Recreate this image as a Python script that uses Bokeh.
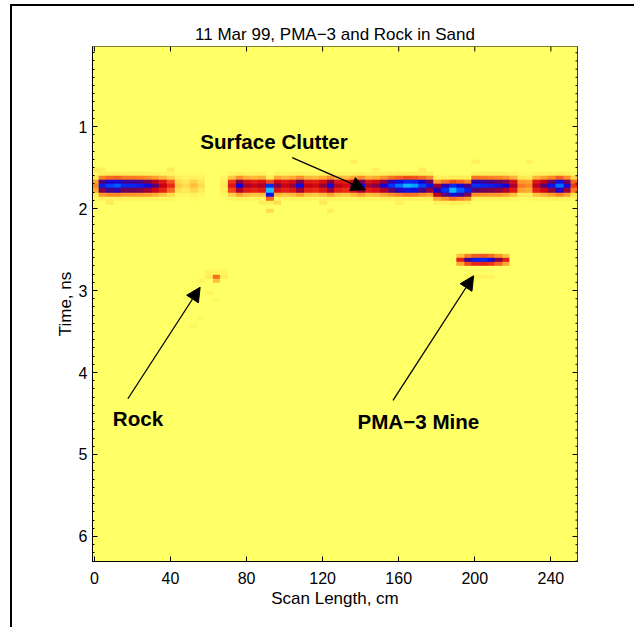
import numpy as np
from bokeh.plotting import figure
from bokeh.models import (Range1d, FixedTicker, LinearColorMapper,
                          Arrow, NormalHead, Label)
from bokeh.embed import file_html
from bokeh.resources import INLINE

# ---------------- data ----------------
title_text = "11 Mar 99, PMA\u22123 and Rock in Sand"
x_label = "Scan Length, cm"
y_label = "Time, ns"
x_ticks = [0, 40, 80, 120, 160, 200, 240]
y_ticks = [1, 2, 3, 4, 5, 6]
x_lim = (-1, 254)
t_lim = (0.024, 6.305)

# image columns: scan position (cm) of each column centre
scan_cm = [0, 4, 8, 12, 16, 20, 24, 28, 32, 36, 40, 44, 48, 52, 56, 60,
           64, 68, 72, 76, 80, 84, 88, 92, 96, 100, 104, 108, 112, 116, 120, 124,
           128, 132, 136, 140, 144, 148, 152, 156, 160, 164, 168, 172, 176, 180, 184, 188,
           192, 196, 200, 204, 208, 212, 216, 220, 224, 228, 232, 236, 240, 244, 248, 252]
# surface-clutter strength (0 = background, 1 = strongest return)
clutter_amp = [0.30, 0.78, 0.84, 0.86, 0.80, 0.80, 0.78, 0.74, 0.66, 0.55, 0.42, 0.18, 0.15, 0.20, 0.15, 0.00,
               0.00, 0.12, 0.48, 0.72, 0.58, 0.54, 0.58, 0.95, 0.62, 0.55, 0.60, 0.74, 0.55, 0.52, 0.60, 0.74,
               0.56, 0.52, 0.62, 0.74, 0.58, 0.62, 0.72, 0.82, 0.88, 0.94, 0.92, 0.84, 0.76, 0.70, 0.82, 0.94,
               0.86, 0.78, 0.82, 0.80, 0.78, 0.76, 0.72, 0.58, 0.32, 0.30, 0.56, 0.66, 0.76, 0.88, 0.74, 0.40]
# time (ns) of the clutter band centre
clutter_t = [1.70] * 11 + [1.70] * 7 + [1.73] * 5 + [1.76] + [1.74] * 12 + [1.71] * 8 + \
            [1.74, 1.76, 1.78, 1.78, 1.78, 1.76] + [1.75] * 5 + [1.75] * 9
# relative strength of band rows above / below centre (rows of 0.05 ns)
band_profile = [0.12, 0.40, 0.85, 1.00, 0.80, 0.35, 0.10]

# PMA-3 mine return
mine_cm = [192, 196, 200, 204, 208, 212, 216]
mine_amp = [0.45, 0.68, 0.78, 0.80, 0.74, 0.62, 0.45]
mine_t = 2.60
mine_profile = [0.45, 1.00, 0.55]

# weak isolated returns (cm, ns, strength): rock, mine shadow, speckle
spot_cm = [64, 64, 60, 68, 56, 60, 64, 68, 60, 64, 56, 52,
           196, 200, 204, 208,
           0, 4, 8, 40, 44, 92, 96, 88, 120, 136, 148, 160, 172, 200, 228, 236, 124]
spot_t = [2.85, 2.90, 2.85, 2.85, 2.90, 2.80, 2.80, 2.80, 3.05, 3.10, 3.35, 3.40,
          2.85, 2.85, 2.85, 2.85,
          1.55, 1.55, 1.95, 1.55, 1.60, 2.00, 1.95, 1.95, 1.95, 1.45, 1.55, 1.95, 1.50, 1.45, 1.45, 1.60, 2.00]
spot_amp = [0.33, 0.20, 0.12, 0.10, 0.06, 0.07, 0.07, 0.05, 0.06, 0.05, 0.04, 0.04,
            0.07, 0.08, 0.08, 0.06,
            0.12, 0.10, 0.12, 0.12, 0.10, 0.15, 0.15, 0.10, 0.12, 0.10, 0.08, 0.08, 0.12, 0.10, 0.08, 0.08, 0.10]

# annotations
labels_txt = ["Surface Clutter", "Rock", "PMA\u22123 Mine"]
labels_x = [55.6, 9.7, 138.3]
labels_t = [1.18, 4.56, 4.60]
arrow_x0 = [104, 17.6, 157]
arrow_t0 = [1.38, 4.32, 4.34]
arrow_x1 = [142.5, 55.6, 199.4]
arrow_t1 = [1.77, 2.96, 2.82]

# ---------------- build the image ----------------
dt = 0.05
t_max = 6.3
n_rows = int(round(t_max / dt))
col_w = 4.0
img = np.zeros((n_rows, len(scan_cm)))


def row_of(t):
    return int(round(t / dt - 0.5))


def put(ci, ri, v):
    if 0 <= ci < img.shape[1] and 0 <= ri < n_rows:
        img[ri, ci] = max(img[ri, ci], v)


half = len(band_profile) // 2
for ci, (a, tc) in enumerate(zip(clutter_amp, clutter_t)):
    r0 = row_of(tc)
    for k, f in enumerate(band_profile):
        put(ci, r0 + k - half, a * f)

mh = len(mine_profile) // 2
for cm, a in zip(mine_cm, mine_amp):
    ci = scan_cm.index(cm)
    r0 = row_of(mine_t)
    for k, f in enumerate(mine_profile):
        put(ci, r0 + k - mh, a * f)

for cm, t, a in zip(spot_cm, spot_t, spot_amp):
    put(scan_cm.index(cm), row_of(t), a)

# colour map: yellow -> orange -> red -> purple -> blue -> cyan
anchors_pos = [0.0, 0.12, 0.28, 0.42, 0.55, 0.64, 0.72, 0.84, 0.93, 1.0]
anchors_rgb = [(255, 255, 102), (255, 235, 85), (255, 150, 40), (235, 40, 20), (200, 0, 20),
               (110, 0, 90), (20, 0, 210), (0, 60, 255), (0, 170, 255), (90, 235, 255)]
palette = []
for s in np.linspace(0, 1, 256):
    rgb = [int(round(np.interp(s, anchors_pos, [c[i] for c in anchors_rgb]))) for i in range(3)]
    palette.append("#%02x%02x%02x" % tuple(rgb))
mapper = LinearColorMapper(palette=palette, low=0, high=1)

# ---------------- figure ----------------
FONT = "Liberation Sans"
p = figure(width=624, height=623, output_backend="svg", toolbar_location=None,
           x_range=Range1d(*x_lim), y_range=Range1d(t_lim[1], t_lim[0]),
           min_border_left=80, min_border_right=59, min_border_top=40, min_border_bottom=68,
           background_fill_color="#ffff66", border_fill_color="white")
# outer window frame: only its top and left edges fall inside the picture
p.margin = (4, 0, 0, 10)
p.styles = {"border-left": "2px solid black", "border-top": "2px solid black"}

p.image(image=[img], x=scan_cm[0] - col_w / 2, y=0, dw=col_w * len(scan_cm), dh=t_max,
        color_mapper=mapper)

p.title.text = title_text
p.title.align = "center"
p.title.text_font = FONT
p.title.text_font_size = "17px"
p.title.text_font_style = "normal"
p.title.text_color = "black"
p.title.standoff = 5

y_minor = [round(v, 2) for v in np.arange(0.1, 6.31, 0.1) if abs(v - round(v)) > 1e-6]

for ax in (p.xaxis[0], p.yaxis[0]):
    ax.major_label_text_font = FONT
    ax.major_label_text_font_size = "16px"
    ax.major_label_text_color = "black"
    ax.axis_label_text_font = FONT
    ax.axis_label_text_font_size = "17px"
    ax.axis_label_text_font_style = "normal"
    ax.axis_label_text_color = "black"
    ax.major_tick_in = 5
    ax.major_tick_out = 0
    ax.minor_tick_in = 2
    ax.minor_tick_out = 0
    ax.axis_line_color = "black"
    ax.major_tick_line_color = "black"
    ax.minor_tick_line_color = "black"

p.xaxis[0].ticker = FixedTicker(ticks=x_ticks)
p.xaxis[0].axis_label = x_label
p.xaxis[0].major_label_standoff = 10
p.xaxis[0].axis_label_standoff = 2
p.yaxis[0].ticker = FixedTicker(ticks=y_ticks, minor_ticks=y_minor)
p.yaxis[0].axis_label = y_label
p.yaxis[0].major_label_standoff = 5
p.yaxis[0].axis_label_standoff = 1

for g in (p.xgrid[0], p.ygrid[0]):
    g.grid_line_color = "black"
    g.grid_line_dash = "1 6"
    g.grid_line_width = 1
    g.grid_line_alpha = 1.0
p.xgrid[0].ticker = FixedTicker(ticks=x_ticks)
p.ygrid[0].ticker = FixedTicker(ticks=y_ticks)

p.outline_line_color = "black"
p.outline_line_width = 1

# ticks on the top and right edges of the box (lengths in px converted to data units)
px_per_cm = (577 - 92) / (x_lim[1] - x_lim[0])
px_per_ns = (561 - 46) / (t_lim[1] - t_lim[0])
maj_x = 5 / px_per_cm
maj_t = 5 / px_per_ns
min_x = 2 / px_per_cm
p.segment(x0=x_ticks, x1=x_ticks, y0=[t_lim[0]] * len(x_ticks),
          y1=[t_lim[0] + maj_t] * len(x_ticks), line_color="black", line_width=1)
p.segment(x0=[x_lim[1] - maj_x] * len(y_ticks), x1=[x_lim[1]] * len(y_ticks),
          y0=y_ticks, y1=y_ticks, line_color="black", line_width=1)
p.segment(x0=[x_lim[1] - min_x] * len(y_minor), x1=[x_lim[1]] * len(y_minor),
          y0=y_minor, y1=y_minor, line_color="black", line_width=1)

for txt, x, t in zip(labels_txt, labels_x, labels_t):
    p.add_layout(Label(x=x, y=t, text=txt, text_font=FONT, text_font_size="20.6px",
                       text_font_style="bold", text_color="black", text_baseline="middle"))

for xs, ts, xe, te in zip(arrow_x0, arrow_t0, arrow_x1, arrow_t1):
    p.add_layout(Arrow(end=NormalHead(size=14, fill_color="black", line_color="black"),
                       x_start=xs, y_start=ts, x_end=xe, y_end=te,
                       line_color="black", line_width=1.3))

open("out.html", "w").write(file_html(p, INLINE))
